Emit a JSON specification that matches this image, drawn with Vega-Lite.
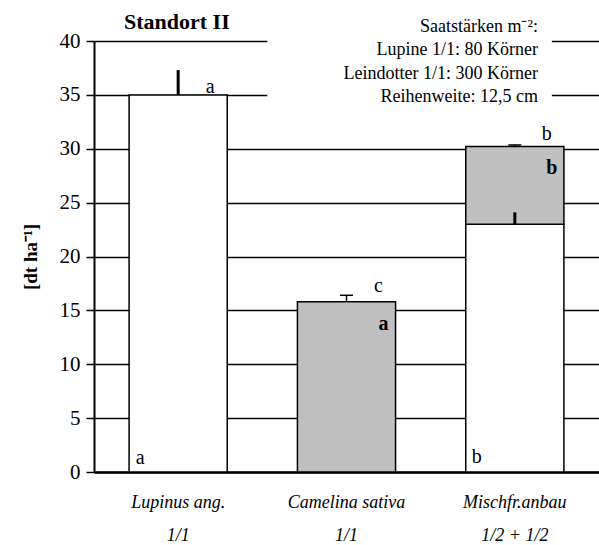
{
  "$schema": "https://vega.github.io/schema/vega-lite/v6.json",
  "width": 505,
  "height": 431,
  "autosize": {"type": "none"},
  "padding": {"left": 94, "top": 41, "right": 0, "bottom": 73},
  "background": "white",
  "config": {
    "font": "Liberation Serif",
    "view": {"stroke": null},
    "text": {"font": "Liberation Serif", "color": "black"}
  },
  "title": {
    "text": "Standort II",
    "anchor": "start",
    "dx": 103,
    "dy": 24,
    "offset": 8,
    "fontSize": 22,
    "fontWeight": "bold",
    "font": "Liberation Serif",
    "color": "black"
  },
  "datasets": {
    "bars": [
      {"crop": "Lupinus ang.|1/1", "part": "Lupine", "lo": 0, "hi": 35.0},
      {"crop": "Camelina sativa|1/1", "part": "Leindotter", "lo": 0, "hi": 15.8},
      {"crop": "Mischfr.anbau|1/2 + 1/2", "part": "Lupine", "lo": 0, "hi": 23.0},
      {"crop": "Mischfr.anbau|1/2 + 1/2", "part": "Leindotter", "lo": 23.0, "hi": 30.2}
    ],
    "errors": [
      {"crop": "Lupinus ang.|1/1", "part": "Lupine", "mean": 35.0, "upper": 37.3},
      {"crop": "Camelina sativa|1/1", "part": "Leindotter", "mean": 15.8, "upper": 16.4},
      {"crop": "Mischfr.anbau|1/2 + 1/2", "part": "Lupine", "mean": 23.0, "upper": 24.1},
      {"crop": "Mischfr.anbau|1/2 + 1/2", "part": "Leindotter", "mean": 30.2, "upper": 30.35}
    ],
    "letters": [
      {"crop": "Lupinus ang.|1/1", "group": "gesamt", "letter": "a", "y": 35.2},
      {"crop": "Camelina sativa|1/1", "group": "gesamt", "letter": "c", "y": 16.7},
      {"crop": "Mischfr.anbau|1/2 + 1/2", "group": "gesamt", "letter": "b", "y": 30.8},
      {"crop": "Camelina sativa|1/1", "group": "Leindotter", "letter": "a", "y": 13.2},
      {"crop": "Mischfr.anbau|1/2 + 1/2", "group": "Leindotter", "letter": "b", "y": 27.7},
      {"crop": "Lupinus ang.|1/1", "group": "Lupine", "letter": "a", "y": 0.75},
      {"crop": "Mischfr.anbau|1/2 + 1/2", "group": "Lupine", "letter": "b", "y": 0.8}
    ]
  },
  "layer": [
    {
      "encoding": {
        "x": {
          "field": "crop",
          "type": "nominal",
          "sort": null,
          "scale": {"domain": ["Lupinus ang.|1/1", "Camelina sativa|1/1", "Mischfr.anbau|1/2 + 1/2"], "paddingInner": 0.417, "paddingOuter": 0.2085},
          "axis": {
            "title": null,
            "ticks": false,
            "labelAngle": 0,
            "labelFont": "Liberation Serif",
            "labelFontStyle": "italic",
            "labelFontSize": 18,
            "labelColor": "black",
            "labelPadding": 21,
            "labelLineHeight": 33,
            "labelExpr": "split(datum.label, '|')",
            "domainColor": "black",
            "domainWidth": 2.5,
            "grid": false
          }
        }
      },
      "layer": [
        {
          "data": {"name": "bars"},
          "mark": {"type": "bar", "stroke": "black", "strokeWidth": 1.5},
          "encoding": {
            "y": {
              "field": "lo",
              "type": "quantitative",
              "title": "[dt ha⁻¹]",
              "scale": {"domain": [0, 40]},
              "axis": {
                "title": "[dt ha⁻¹]",
                "values": [0, 5, 10, 15, 20, 25, 30, 35, 40],
                "grid": true,
                "gridColor": "black",
                "gridWidth": 1.5,
                "gridOpacity": 1,
                "domainColor": "black",
                "domainWidth": 2,
                "tickColor": "black",
                "tickWidth": 1.5,
                "tickSize": 8,
                "labelFont": "Liberation Serif",
                "labelFontSize": 21,
                "labelColor": "black",
                "labelPadding": 6,
                "titleFont": "Liberation Serif",
                "titleFontSize": 19,
                "titleFontWeight": "bold",
                "titleColor": "black",
                "titlePadding": 19
              }
            },
            "y2": {"field": "hi"},
            "fill": {
              "field": "part",
              "type": "nominal",
              "scale": {"domain": ["Lupine", "Leindotter"], "range": ["#ffffff", "#c0c0c0"]},
              "legend": null
            }
          }
        },
        {
          "data": {"name": "errors"},
          "transform": [{"filter": "datum.part == 'Lupine'"}],
          "mark": {"type": "rule", "color": "black", "strokeWidth": 3},
          "encoding": {
            "y": {"field": "mean", "type": "quantitative", "title": "[dt ha⁻¹]"},
            "y2": {"field": "upper"}
          }
        },
        {
          "data": {"name": "errors"},
          "transform": [{"filter": "datum.part == 'Leindotter'"}],
          "mark": {"type": "rule", "color": "black", "strokeWidth": 1.5},
          "encoding": {
            "y": {"field": "mean", "type": "quantitative", "title": "[dt ha⁻¹]"},
            "y2": {"field": "upper"}
          }
        },
        {
          "data": {"name": "errors"},
          "transform": [{"filter": "datum.part == 'Leindotter'"}],
          "mark": {"type": "tick", "color": "black", "orient": "horizontal", "size": 13, "thickness": 1.5, "opacity": 1},
          "encoding": {
            "y": {"field": "upper", "type": "quantitative", "title": "[dt ha⁻¹]"}
          }
        },
        {
          "data": {"name": "letters"},
          "transform": [{"filter": "datum.group == 'gesamt'"}],
          "mark": {"type": "text", "baseline": "alphabetic", "align": "center", "fontSize": 20, "dx": 32},
          "encoding": {
            "y": {"field": "y", "type": "quantitative", "title": "[dt ha⁻¹]"},
            "text": {"field": "letter"}
          }
        },
        {
          "data": {"name": "letters"},
          "transform": [{"filter": "datum.group == 'Leindotter'"}],
          "mark": {"type": "text", "baseline": "alphabetic", "align": "center", "fontSize": 20, "fontWeight": "bold", "dx": 37},
          "encoding": {
            "y": {"field": "y", "type": "quantitative", "title": "[dt ha⁻¹]"},
            "text": {"field": "letter"}
          }
        },
        {
          "data": {"name": "letters"},
          "transform": [{"filter": "datum.group == 'Lupine'"}],
          "mark": {"type": "text", "baseline": "alphabetic", "align": "center", "fontSize": 20, "dx": -38},
          "encoding": {
            "y": {"field": "y", "type": "quantitative", "title": "[dt ha⁻¹]"},
            "text": {"field": "letter"}
          }
        }
      ]
    },
    {
      "data": {"values": [{}]},
      "mark": {"type": "rect", "fill": "white", "stroke": null},
      "encoding": {
        "x": {"datum": 1.03, "type": "quantitative", "scale": {"domain": [0, 3]}, "axis": null},
        "x2": {"datum": 2.72},
        "y": {"datum": 34.75, "type": "quantitative", "title": "[dt ha⁻¹]"},
        "y2": {"datum": 40.3}
      }
    },
    {
      "data": {"values": [{}]},
      "mark": {"type": "text", "align": "right", "baseline": "alphabetic", "fontSize": 18, "lineHeight": 23.3, "font": "Liberation Serif", "color": "black"},
      "encoding": {
        "x": {"datum": 2.637, "type": "quantitative", "scale": {"domain": [0, 3]}, "axis": null},
        "y": {"datum": 40.83, "type": "quantitative", "title": "[dt ha⁻¹]"},
        "text": {"value": ["Saatstärken m⁻²:", "Lupine 1/1: 80 Körner", "Leindotter 1/1: 300 Körner", "Reihenweite: 12,5 cm"]}
      }
    }
  ],
  "resolve": {"scale": {"x": "independent"}}
}
